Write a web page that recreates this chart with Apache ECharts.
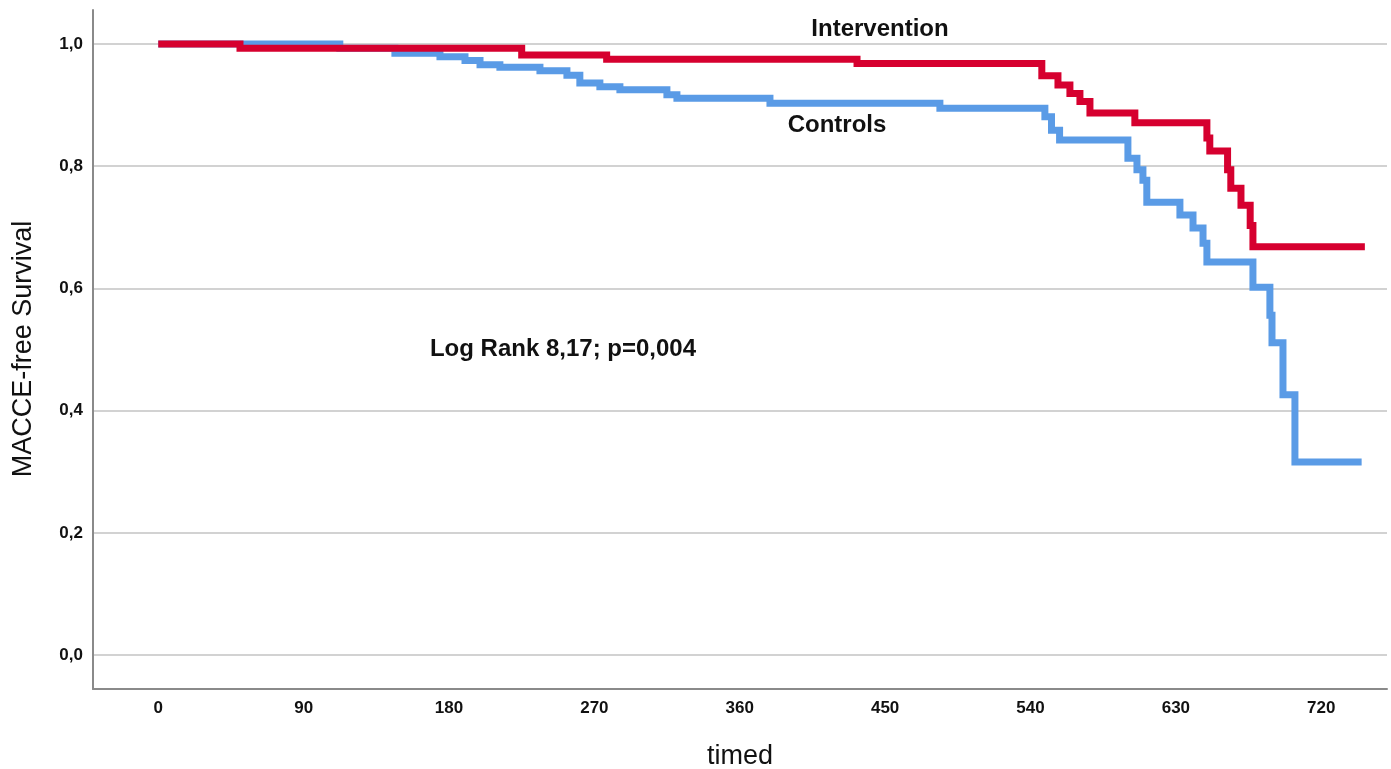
<!DOCTYPE html>
<html>
<head>
<meta charset="utf-8">
<script src="https://cdn.jsdelivr.net/npm/echarts@6/dist/echarts.min.js"></script>
<style>
  html, body { margin: 0; padding: 0; background: #ffffff; }
  #chart { width: 1391px; height: 769px; }
</style>
</head>
<body>
<div id="chart"></div>
<script>
// Kaplan-Meier step points: day of each event and survival after it
const interventionDays = [0, 50.6, 225, 277.6, 432.6, 547, 557, 564.4, 570.6, 576.8, 604.6, 649.2, 651, 662, 664, 670.3, 676, 677.7, 747];
const interventionSurv = [1.0, 0.993, 0.982, 0.975, 0.968, 0.948, 0.933, 0.919, 0.906, 0.887, 0.871, 0.846, 0.825, 0.794, 0.764, 0.736, 0.703, 0.668, 0.668];

const controlDays = [0, 112.4, 146.5, 174.4, 189.9, 199.2, 211.5, 236.3, 253, 261, 273.4, 285.8, 314.9, 321.1, 378.7, 483.9, 548.9, 553, 558, 600.3, 605.9, 609.6, 612, 632.5, 640.6, 646.8, 649.2, 677.7, 688.2, 689.5, 696.3, 703.7, 745];
const controlSurv = [1.0, 0.993, 0.985, 0.979, 0.973, 0.966, 0.962, 0.956, 0.949, 0.936, 0.930, 0.925, 0.917, 0.911, 0.903, 0.895, 0.881, 0.859, 0.843, 0.813, 0.794, 0.777, 0.741, 0.720, 0.699, 0.674, 0.643, 0.602, 0.556, 0.511, 0.426, 0.316, 0.316];

const xTicks = [0, 90, 180, 270, 360, 450, 540, 630, 720];
const yTicks = [0, 0.2, 0.4, 0.6, 0.8, 1.0];

const groupNames = ['Intervention', 'Controls'];
const testLabel = 'Log Rank 8,17; p=0,004';
const xTitle = 'timed';
const yTitle = 'MACCE-free Survival';

const pairs = (xs, ys) => xs.map((x, i) => [x, ys[i]]);
const comma = v => v.toFixed(1).replace('.', ',');

const chart = echarts.init(document.getElementById('chart'), null, { renderer: 'canvas' });

const tickFont = { fontFamily: 'Liberation Sans, Arial, sans-serif', fontWeight: 'bold', fontSize: 17, color: '#111111' };
const noteFont = 'bold 24px "Liberation Sans", Arial, sans-serif';
const titleFont = '27px "Liberation Sans", Arial, sans-serif';

chart.setOption({
  animation: false,
  backgroundColor: '#ffffff',
  grid: { left: 93, right: 4, top: 10, bottom: 80, containLabel: false },
  xAxis: {
    type: 'value',
    min: -40.4,
    max: 760.7,
    axisLine: { show: true, onZero: false, lineStyle: { color: '#8a8a8a', width: 2 } },
    axisTick: { show: false, customValues: xTicks },
    axisLabel: { customValues: xTicks, margin: 11, formatter: v => String(v), ...tickFont },
    splitLine: { show: false }
  },
  yAxis: {
    type: 'value',
    min: -0.0556,
    max: 1.0556,
    axisLine: { show: true, onZero: false, lineStyle: { color: '#8a8a8a', width: 2 } },
    axisTick: { show: false, customValues: yTicks },
    axisLabel: { customValues: yTicks, margin: 10, formatter: comma, ...tickFont },
    splitLine: { show: true, lineStyle: { color: '#d2d2d2', width: 2 } }
  },
  series: [
    {
      name: groupNames[1],
      type: 'line',
      step: 'end',
      data: pairs(controlDays, controlSurv),
      showSymbol: false,
      lineStyle: { color: '#5a9be6', width: 7, cap: 'butt', join: 'miter' },
      z: 2
    },
    {
      name: groupNames[0],
      type: 'line',
      step: 'end',
      data: pairs(interventionDays, interventionSurv),
      showSymbol: false,
      lineStyle: { color: '#d6002f', width: 7, cap: 'butt', join: 'miter' },
      z: 3
    }
  ],
  graphic: [
    { type: 'text', x: 880, y: 29, style: { text: groupNames[0], font: noteFont, fill: '#111111', textAlign: 'center', textVerticalAlign: 'middle' } },
    { type: 'text', x: 837, y: 125, style: { text: groupNames[1], font: noteFont, fill: '#111111', textAlign: 'center', textVerticalAlign: 'middle' } },
    { type: 'text', x: 563, y: 349, style: { text: testLabel, font: noteFont, fill: '#111111', textAlign: 'center', textVerticalAlign: 'middle' } },
    { type: 'text', x: 740, y: 757, style: { text: xTitle, font: titleFont, fill: '#111111', textAlign: 'center', textVerticalAlign: 'middle' } },
    { type: 'text', x: 24, y: 349, rotation: Math.PI / 2, style: { text: yTitle, font: titleFont, fill: '#111111', textAlign: 'center', textVerticalAlign: 'middle' } }
  ]
});
</script>
</body>
</html>
